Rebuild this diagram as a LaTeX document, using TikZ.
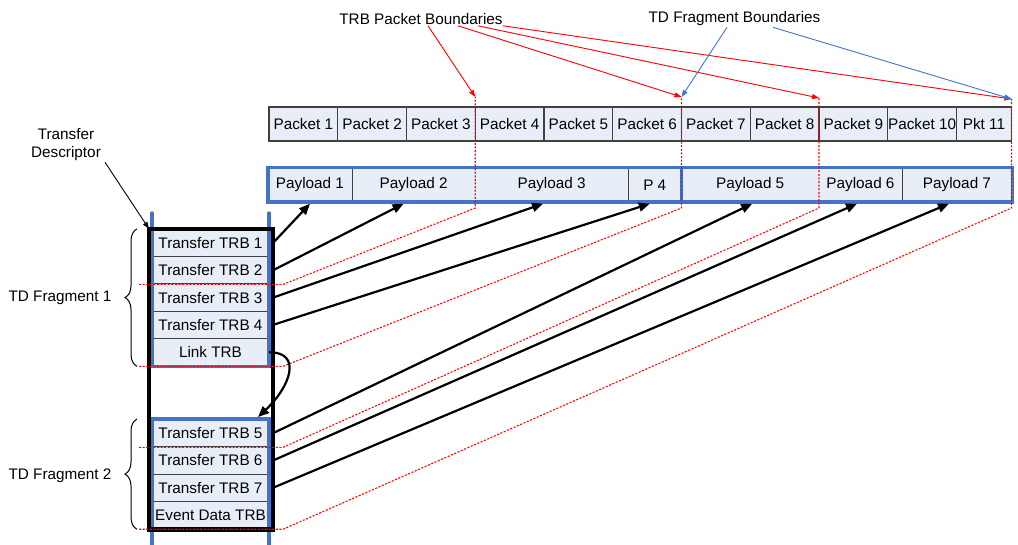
\documentclass[tikz,border=0pt]{standalone}
\usepackage{fontspec}
\setmainfont{Liberation Sans}
\usetikzlibrary{arrows.meta,decorations.pathreplacing}
\definecolor{cellfill}{RGB}{232,238,248}
\definecolor{fragblue}{RGB}{68,114,196}
\definecolor{celledge}{RGB}{64,64,64}

\begin{document}
\begin{tikzpicture}[x=1pt,y=-1pt,
    font=\fontsize{15.3}{18}\selectfont,
    pkt/.style={draw=celledge,line width=1.2pt,fill=cellfill,minimum width=68.75pt,minimum height=34pt,inner sep=0pt},
    pay/.style={fill=cellfill,minimum height=34pt,inner sep=0pt},
    trb/.style={draw=celledge,line width=1pt,fill=cellfill,minimum width=116pt,minimum height=27.3pt,inner sep=0pt},
    bnd/.style={red,line width=1.1pt,dash pattern=on 2pt off 1.6pt},
    ptr/.style={line width=2.2pt,-{Triangle[length=11pt,width=9pt]}},
    tag/.style={line width=0.9pt,-{Triangle[length=7pt,width=5pt]}},
    fragline/.style={fragblue,line width=3.4pt}]
      \useasboundingbox (0,0) rectangle (1018,545);

      % packets
      \node[pkt] (p1) at (303.4,124) {Packet 1};
      \node[pkt] (p2) at (372.1,124) {Packet 2};
      \node[pkt] (p3) at (440.9,124) {Packet 3};
      \node[pkt] (p4) at (509.6,124) {Packet 4};
      \node[pkt] (p5) at (578.4,124) {Packet 5};
      \node[pkt] (p6) at (647.1,124) {Packet 6};
      \node[pkt] (p7) at (715.9,124) {Packet 7};
      \node[pkt] (p8) at (784.6,124) {Packet 8};
      \node[pkt] (p9) at (853.4,124) {Packet 9};
      \node[pkt] (p10) at (922.1,124) {Packet 10};
      \node[pkt,minimum width=55pt] (p11) at (984,124) {Pkt 11};

      % payloads
      \node[pay,minimum width=84pt] (pl1) at (310,185) {Payload 1};
      \node[pay,minimum width=123.25pt] (pl2) at (413.6,185) {Payload 2};
      \node[pay,minimum width=152.75pt] (pl3) at (551.6,185) {Payload 3};
      \node[pay,minimum width=53.5pt] (pl4) at (654.75,185) {P 4};
      \node[pay,minimum width=137.5pt] (pl5) at (750.25,185) {Payload 5};
      \node[pay,minimum width=83pt] (pl6) at (860.5,185) {Payload 6};
      \node[pay,minimum width=110pt] (pl7) at (957,185) {Payload 7};
      \draw[celledge,line width=1.2pt] (pl1.north east) -- (pl1.south east);
      \draw[celledge,line width=1.2pt] (pl3.north east) -- (pl3.south east);
      \draw[celledge,line width=1.2pt] (pl6.north east) -- (pl6.south east);
      \draw[fragline] (pl1.north west) rectangle (pl4.south east);
      \draw[fragline] (pl5.north west) rectangle (pl7.south east);

      % transfer ring
      \coordinate (ringtop) at (0,213);
      \coordinate (ringbot) at (0,545);
      \node[trb] (t1) at (210.5,243) {Transfer TRB 1};
      \node[trb] (t2) at (210.5,270.3) {Transfer TRB 2};
      \node[trb] (t3) at (210.5,297.6) {Transfer TRB 3};
      \node[trb] (t4) at (210.5,324.9) {Transfer TRB 4};
      \node[trb] (link) at (210.5,352.2) {Link TRB};
      \node[trb] (t5) at (210.5,433.2) {Transfer TRB 5};
      \node[trb] (t6) at (210.5,460.5) {Transfer TRB 6};
      \node[trb] (t7) at (210.5,487.8) {Transfer TRB 7};
      \node[trb] (evt) at (210.5,515.1) {Event Data TRB};
      \draw[fragline,line cap=round] (t1.west |- ringtop) -- (t1.north west);
      \draw[fragline,line cap=round] (t1.east |- ringtop) -- (t1.north east);
      \draw[fragline,line cap=round] (evt.south west) -- (t1.west |- ringbot);
      \draw[fragline,line cap=round] (evt.south east) -- (t1.east |- ringbot);
      \draw[fragline] (t1.north west) rectangle (link.south east);
      \draw[fragline] (t5.north west) rectangle (evt.south east);
      \draw[line width=4.6pt] ([xshift=-3pt]t1.north west) rectangle ([xshift=3.8pt]evt.south east);

      % boundaries
      \coordinate (b1) at (475.25,97);
      \coordinate (b2) at (681.5,97);
      \coordinate (b3) at (819,98);
      \coordinate (b4) at (1011.5,99);
      \coordinate (lowedge) at (0,208);
      \draw[bnd] ([xshift=-13pt]t2.south west) -- ([xshift=14pt]t2.south east) -- (b1 |- lowedge) -- (b1);
      \draw[bnd] ([xshift=-13pt]link.south west) -- ([xshift=14pt]link.south east) -- (b2 |- lowedge) -- (b2);
      \draw[bnd] ([xshift=-13pt]t5.south west) -- ([xshift=14pt]t5.south east) -- (b3 |- lowedge) -- (b3);
      \draw[bnd] ([xshift=-13pt]evt.south west) -- ([xshift=14pt]evt.south east) -- (b4 |- lowedge) -- (b4);

      % data pointers
      \draw[ptr] ([xshift=4pt]t1.east) -- ([yshift=-1.5pt]pl1.south);
      \draw[ptr] ([xshift=4pt]t2.east) -- ([xshift=-10pt,yshift=-1.5pt]pl2.south);
      \draw[ptr] ([xshift=4pt]t3.east) -- ([xshift=-8.5pt,yshift=-1.5pt]pl3.south);
      \draw[ptr] ([xshift=4pt]t4.east) -- ([xshift=-5pt,yshift=-1.5pt]pl4.south);
      \draw[ptr] ([xshift=4pt]t5.east) -- ([xshift=2pt,yshift=-1.5pt]pl5.south);
      \draw[ptr] ([xshift=4pt]t6.east) -- ([xshift=-3.5pt,yshift=-1.5pt]pl6.south);
      \draw[ptr] ([xshift=4pt]t7.east) -- ([xshift=-8pt,yshift=-1.5pt]pl7.south);
      \draw[ptr] (link.east) .. controls +(34,0) and +(32,-30) .. ([xshift=-11pt,yshift=2pt]t5.north east);

      % labels
      \node[inner sep=1pt] (trbb) at (421,19) {TRB Packet Boundaries};
      \node[inner sep=1pt] (tdfb) at (734.5,19) {TD Fragment Boundaries};
      \node[inner sep=1pt,align=center] (tdesc) at (66,145) {Transfer\\Descriptor};
      \node[inner sep=1pt] (fr1) at (60,298) {TD Fragment 1};
      \node[inner sep=1pt] (fr2) at (60,476) {TD Fragment 2};

      \draw[tag,red] ([xshift=7pt]trbb.south) -- (b1);
      \draw[tag,red] ([xshift=37pt]trbb.south) -- (b2);
      \draw[tag,red] ([xshift=57pt]trbb.south) -- (b3);
      \draw[tag,red] ([xshift=82pt]trbb.south) -- (b4);
      \draw[tag,fragblue] ([xshift=-7.5pt]tdfb.south) -- (b2);
      \draw[tag,fragblue] ([xshift=38.5pt]tdfb.south) -- (b4);
      \draw[tag] ([xshift=3pt]tdesc.south east) -- ([xshift=-3pt]t1.north west);

      \draw[line width=1pt,decorate,decoration={brace,amplitude=12pt}] ([xshift=-15pt]link.south west) -- ([xshift=-15pt]t1.north west);
      \draw[line width=1pt,decorate,decoration={brace,amplitude=12pt}] ([xshift=-15pt]evt.south west) -- ([xshift=-15pt]t5.north west);
    \end{tikzpicture}
\end{document}
